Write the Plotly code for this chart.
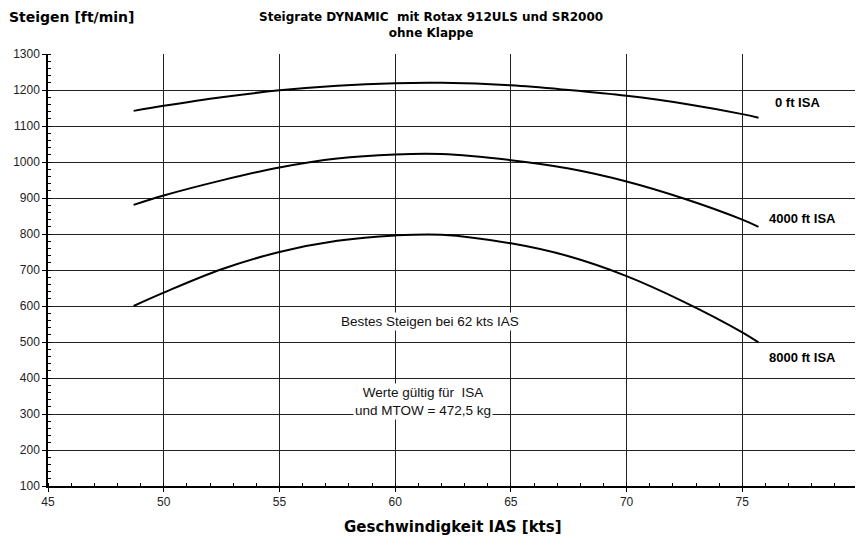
import plotly.graph_objects as go

ias = [48.7, 50, 52.5, 55, 57.5, 60, 62, 65, 67.5, 70, 72.5, 75, 75.7]
climb_0ft = [1142, 1156, 1180, 1199, 1212, 1219, 1220, 1213, 1200, 1184, 1162, 1133, 1123]
climb_4000ft = [881, 907, 949, 985, 1010, 1021, 1022, 1005, 982, 946, 898, 840, 820]
climb_8000ft = [600, 637, 702, 750, 781, 796, 798, 774, 738, 683, 611, 527, 499]

series_labels = ["0 ft ISA", "4000 ft ISA", "8000 ft ISA"]
label_pos = [(77.4, 1164), (77.6, 844), (77.6, 458)]

FONT = "Liberation Sans, Arial, sans-serif"
BFONT = "DejaVu Sans, Liberation Sans, sans-serif"

fig = go.Figure()
for name, ys in zip(series_labels, [climb_0ft, climb_4000ft, climb_8000ft]):
    fig.add_trace(go.Scatter(x=ias, y=ys, mode="lines", name=name,
                             line=dict(color="black", width=2, shape="spline", smoothing=1.0),
                             showlegend=False))

annotations = []
for name, (lx, ly) in zip(series_labels, label_pos):
    annotations.append(dict(x=lx, y=ly, xref="x", yref="y", text="<b>" + name + "</b>",
                            showarrow=False, font=dict(family=FONT, size=13, color="black"),
                            bgcolor="white"))
annotations += [
    dict(x=61.5, y=558, xref="x", yref="y", text="Bestes Steigen bei 62 kts IAS",
         showarrow=False, font=dict(family=FONT, size=13.5, color="#111"), bgcolor="white"),
    dict(x=61.2, y=336, xref="x", yref="y", text="Werte gültig für  ISA<br>und MTOW = 472,5 kg",
         showarrow=False, font=dict(family=FONT, size=13.5, color="#111"), bgcolor="white"),
    dict(x=(431 - 48) / 810, y=1.067, xref="paper", yref="paper",
         text="<b>Steigrate DYNAMIC  mit Rotax 912ULS und SR2000<br>ohne Klappe</b>",
         showarrow=False, font=dict(family=BFONT, size=12, color="black"), yanchor="middle"),
    dict(x=-0.0506, y=1.0856, xref="paper", yref="paper", text="<b>Steigen [ft/min]</b>",
         showarrow=False, font=dict(family=BFONT, size=14, color="black"),
         xanchor="left", yanchor="middle"),
    dict(x=0.5, y=-0.095, xref="paper", yref="paper", text="<b>Geschwindigkeit IAS [kts]</b>",
         showarrow=False, font=dict(family=BFONT, size=15, color="black"), yanchor="middle"),
]

fig.update_layout(
    width=855, height=532,
    margin=dict(l=40, r=5, t=46, b=54),
    paper_bgcolor="white", plot_bgcolor="white",
    annotations=annotations,
    shapes=[dict(type="line", xref="x", yref="paper", x0=80, x1=80, y0=0, y1=1,
                 line=dict(color="#b8b8b0", width=1.5))],
    xaxis=dict(range=[45, 80], dtick=5, tick0=45, showgrid=True, gridcolor="#222", gridwidth=1,
               showline=True, linecolor="black", linewidth=1.5,
               ticks="outside", ticklen=4, tickcolor="black",
               minor=dict(dtick=1, ticks="inside", ticklen=3, tickcolor="black", showgrid=False),
               tickfont=dict(family=FONT, size=12, color="#222"), zeroline=False),
    yaxis=dict(range=[100, 1300], dtick=100, tick0=100, showgrid=True, gridcolor="#222", gridwidth=1,
               showline=True, linecolor="black", linewidth=1.5,
               ticks="outside", ticklen=4, tickcolor="black",
               minor=dict(dtick=20, ticks="inside", ticklen=3, tickcolor="black", showgrid=False),
               tickfont=dict(family=FONT, size=12, color="#222"), zeroline=False),
)

fig.write_html("out.html")
